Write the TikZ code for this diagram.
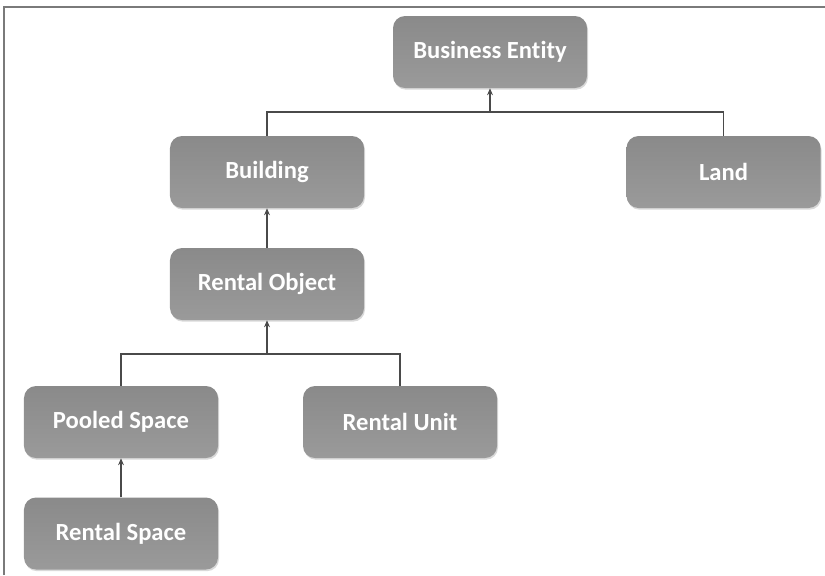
\documentclass[tikz,border=0pt]{standalone}
\usepackage{fontspec}
\setmainfont{Carlito}[Ligatures={NoCommon}]
\usetikzlibrary{arrows.meta,shadows}
\definecolor{boxtop}{HTML}{8A8A8A}
\definecolor{boxbot}{HTML}{9A9A9A}
\definecolor{linec}{HTML}{4A4A4A}
\definecolor{framec}{HTML}{7A7A7A}
\tikzset{
  ent/.style={rounded corners=0.36cm, minimum width=5.82cm, minimum height=2.16cm,
    top color=boxtop, bottom color=boxbot, draw=none, text=white,
    font=\fontsize{21}{23}\selectfont\bfseries, inner sep=0pt,
    drop shadow={shadow xshift=0.03cm, shadow yshift=-0.05cm, opacity=0.25, fill=black!60}},
  conn/.style={draw=linec, line width=0.9pt},
  arr/.style={conn, -{Stealth[length=6pt,width=5pt]}}
}
\begin{document}
\begin{tikzpicture}[x=0.03cm,y=-0.03cm]
\useasboundingbox (0,0) rectangle (825,575);
\draw[framec, line width=2pt] (4,575) -- (4,7) -- (825,7);
\node[ent] (be) at (490,52) {Business Entity};
\node[ent] (bu) at (267,172) {Building};
\node[ent] (la) at (723.5,172) {Land};
\node[ent] (ro) at (267,284) {Rental Object};
\node[ent] (ps) at (121,422) {Pooled Space};
\node[ent] (ru) at (400,422) {Rental Unit};
\node[ent] (rs) at (121,533.5) {Rental Space};
\coordinate (j1) at (490,112);
\coordinate (j2) at (267,354);
\draw[conn] (bu.north) |- (j1) -| (la.north);
\draw[arr] (j1) -- (be.south);
\draw[arr] (ro.north) -- (bu.south);
\draw[conn] (ps.north) |- (j2) -| (ru.north);
\draw[arr] (j2) -- (ro.south);
\draw[arr] (rs.north) -- (ps.south);
\end{tikzpicture}
\end{document}
